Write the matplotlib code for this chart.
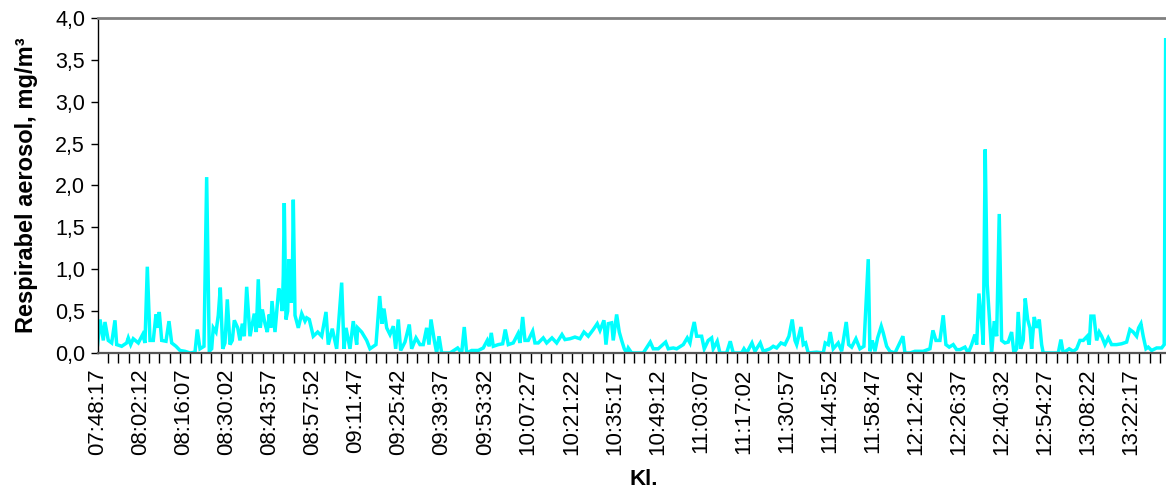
import numpy as np
import matplotlib.pyplot as plt
from matplotlib.ticker import MultipleLocator, FuncFormatter

plt.rcParams['font.family'] = ['Liberation Sans', 'DejaVu Sans']

# seconds after 07:48:17 and respirable aerosol (mg/m3)
t1 = [0, 47, 111, 143, 207, 273, 337, 370, 467, 564, 595, 642, 692, 789, 874, 919, 964, 1016, 1080, 1132,
      1165, 1196, 1243, 1326, 1384, 1437, 1520, 1598, 1695, 1792, 1889, 1933, 1986, 2063, 2115, 2166, 2212, 2243, 2296, 2340,
      2379, 2426, 2470, 2515, 2567, 2612, 2651, 2717, 2761, 2806, 2845, 2891, 2955, 3038, 3077, 3116, 3155, 3194, 3246, 3291,
      3329, 3356, 3382, 3440, 3512, 3550, 3581, 3601, 3620, 3653, 3686, 3711, 3750, 3775, 3795, 3828, 3892, 3958, 4022, 4054,
      4105, 4182, 4268, 4345, 4429, 4473, 4551, 4636, 4733, 4778, 4817, 4894, 4958, 5024, 5043, 5121, 5218, 5282, 5398, 5470,
      5515, 5553, 5606]
v1 = [0.10, 0.40, 0.15, 0.37, 0.15, 0.12, 0.39, 0.10, 0.08, 0.12, 0.18, 0.10, 0.17, 0.12, 0.22, 0.12, 1.03, 0.15, 0.15, 0.46,
      0.30, 0.49, 0.15, 0.14, 0.38, 0.12, 0.08, 0.03, 0.02, 0.00, 0.01, 0.28, 0.05, 0.08, 2.10, 0.02, 0.05, 0.30, 0.25, 0.45,
      0.78, 0.05, 0.12, 0.64, 0.10, 0.15, 0.39, 0.30, 0.15, 0.35, 0.20, 0.79, 0.20, 0.47, 0.25, 0.88, 0.30, 0.52, 0.35, 0.25,
      0.46, 0.30, 0.62, 0.25, 0.77, 0.70, 0.50, 0.93, 1.79, 0.40, 0.50, 1.12, 0.60, 0.80, 1.83, 0.45, 0.30, 0.47, 0.38, 0.42,
      0.40, 0.20, 0.25, 0.20, 0.49, 0.10, 0.29, 0.05, 0.84, 0.05, 0.30, 0.05, 0.38, 0.10, 0.30, 0.25, 0.15, 0.05, 0.10, 0.68,
      0.35, 0.53, 0.30]

t2 = [5670, 5734, 5780, 5831, 5877, 5960, 6044, 6090, 6174, 6251, 6315, 6381, 6426, 6465, 6529, 6575, 6620, 6672, 6833, 6982,
      7060, 7110, 7157, 7254, 7382, 7479, 7556, 7595, 7634, 7673, 7770, 7855, 7905, 7964, 8060, 8152, 8190, 8243, 8287, 8351,
      8437, 8481, 8545, 8642, 8708, 8811, 8902, 9005, 9063, 9160, 9257, 9354, 9431, 9515, 9612, 9689, 9742, 9819, 9858, 9903,
      9968, 9999, 10065, 10116, 10162, 10213, 10259, 10290, 10356, 10581, 10717, 10775, 10872, 11015, 11066, 11163]
v2 = [0.22, 0.32, 0.05, 0.40, 0.03, 0.13, 0.34, 0.05, 0.18, 0.10, 0.10, 0.30, 0.10, 0.40, 0.15, 0.00, 0.20, 0.00, 0.00, 0.06,
      0.00, 0.31, 0.00, 0.03, 0.03, 0.06, 0.15, 0.08, 0.24, 0.08, 0.10, 0.11, 0.28, 0.10, 0.12, 0.23, 0.12, 0.43, 0.15, 0.15,
      0.26, 0.12, 0.12, 0.18, 0.12, 0.18, 0.12, 0.22, 0.16, 0.17, 0.19, 0.17, 0.25, 0.20, 0.28, 0.35, 0.27, 0.39, 0.10, 0.35,
      0.36, 0.15, 0.46, 0.25, 0.15, 0.05, 0.00, 0.06, 0.00, 0.00, 0.13, 0.05, 0.05, 0.13, 0.05, 0.06]

t3 = [11229, 11357, 11434, 11487, 11525, 11570, 11617, 11681, 11713, 11764, 11841, 11907, 11938, 12016, 12068, 12198, 12268, 12326, 12489, 12534,
      12586, 12689, 12747, 12850, 12908, 13038, 13102, 13168, 13251, 13329, 13406, 13470, 13523, 13556, 13639, 13684, 13730, 13781, 13943, 14071,
      14110, 14168, 14207, 14265, 14362, 14428, 14517, 14564, 14622, 14705, 14783, 14860, 14944, 14977, 15021, 15074, 15126, 15196, 15235, 15301,
      15365, 15462, 15617, 15655]
v3 = [0.05, 0.10, 0.18, 0.12, 0.25, 0.37, 0.20, 0.20, 0.20, 0.05, 0.15, 0.18, 0.05, 0.14, 0.00, 0.00, 0.14, 0.00, 0.00, 0.05,
      0.00, 0.12, 0.02, 0.12, 0.02, 0.05, 0.08, 0.06, 0.12, 0.10, 0.20, 0.40, 0.15, 0.10, 0.31, 0.10, 0.12, 0.00, 0.01, 0.00,
      0.12, 0.10, 0.25, 0.05, 0.12, 0.02, 0.37, 0.10, 0.07, 0.17, 0.05, 0.08, 1.12, 0.02, 0.15, 0.02, 0.18, 0.32, 0.24, 0.08,
      0.02, 0.00, 0.20, 0.00]

t4 = [15752, 15849, 16010, 16140, 16198, 16257, 16334, 16398, 16450, 16514, 16592, 16658, 16722, 16819, 16883, 16949, 17013, 17046, 17090, 17143,
      17174, 17212, 17251, 17290, 17337, 17387, 17434, 17484, 17530, 17594, 17658, 17724, 17769, 17821, 17852, 17899, 17949, 17988, 18035, 18079,
      18112, 18163, 18209, 18260, 18306, 18337, 18628, 18680, 18725, 18841, 18919, 18985, 19049, 19113, 19190, 19229, 19262, 19320, 19373, 19423,
      19470, 19534, 19598, 19663, 19760, 19857, 19954, 20018, 20082, 20148, 20187, 20232, 20276, 20329, 20373, 20439, 20536, 20633, 20683, 20711]
v4 = [0.00, 0.02, 0.02, 0.05, 0.27, 0.15, 0.15, 0.45, 0.10, 0.07, 0.10, 0.04, 0.04, 0.07, 0.00, 0.10, 0.22, 0.10, 0.71, 0.38,
      0.10, 2.43, 0.82, 0.45, 0.00, 0.38, 0.20, 1.66, 0.15, 0.12, 0.13, 0.25, 0.00, 0.05, 0.49, 0.05, 0.15, 0.65, 0.40, 0.30,
      0.05, 0.43, 0.30, 0.40, 0.10, 0.00, 0.00, 0.16, 0.00, 0.05, 0.02, 0.05, 0.15, 0.15, 0.20, 0.10, 0.44, 0.44, 0.15, 0.25,
      0.20, 0.10, 0.18, 0.10, 0.10, 0.11, 0.13, 0.28, 0.25, 0.20, 0.30, 0.35, 0.20, 0.05, 0.07, 0.03, 0.06, 0.06, 0.10, 3.74]

time_labels = ["07:48:17", "08:02:12", "08:16:07", "08:30:02", "08:43:57", "08:57:52", "09:11:47",
               "09:25:42", "09:39:37", "09:53:32", "10:07:27", "10:21:22", "10:35:17", "10:49:12",
               "11:03:07", "11:17:02", "11:30:57", "11:44:52", "11:58:47", "12:12:42", "12:26:37",
               "12:40:32", "12:54:27", "13:08:22", "13:22:17"]
label_step = 835   # seconds between labelled times
tick_step = 200    # seconds between tick marks

t = np.array(t1 + t2 + t3 + t4)
v = np.array(v1 + v2 + v3 + v4)

fig = plt.figure(figsize=(11.66, 4.95), dpi=100)
# plot area runs past the right edge of the picture (cropped like the original)
ax = fig.add_axes([0.0837, 0.2869, 0.9363, 0.6768])

ax.plot(t, v, color='#00FFFF', lw=2.5, solid_joinstyle='miter')

ax.set_xlim(0, 21170)
ax.set_ylim(0, 4.0)

ax.set_yticks(np.arange(0, 4.01, 0.5))
ax.yaxis.set_major_formatter(FuncFormatter(lambda y, p: f"{y:.1f}".replace('.', ',')))
ax.tick_params(axis='y', direction='out', length=5, width=1, labelsize=15.5, pad=4)

ax.set_xticks([i * label_step for i in range(len(time_labels))])
ax.set_xticklabels(time_labels, rotation=90, fontsize=16)
ax.xaxis.set_minor_locator(MultipleLocator(tick_step))
ax.tick_params(axis='x', which='major', length=0, pad=11)
ax.tick_params(axis='x', which='minor', direction='out', length=7, width=1)

ax.spines['right'].set_visible(False)
ax.spines['top'].set_color('#808080')
ax.spines['top'].set_linewidth(2.0)
ax.spines['left'].set_color('black')
ax.spines['left'].set_linewidth(1.0)
ax.spines['bottom'].set_color('#555555')
ax.spines['bottom'].set_linewidth(1.6)

ax.set_ylabel("Respirabel aerosol, mg/m³", fontsize=17, fontweight='bold', labelpad=12)
ax.set_xlabel("Kl.", fontsize=16, fontweight='bold', labelpad=10)

fig.savefig("out.png", dpi=100)
